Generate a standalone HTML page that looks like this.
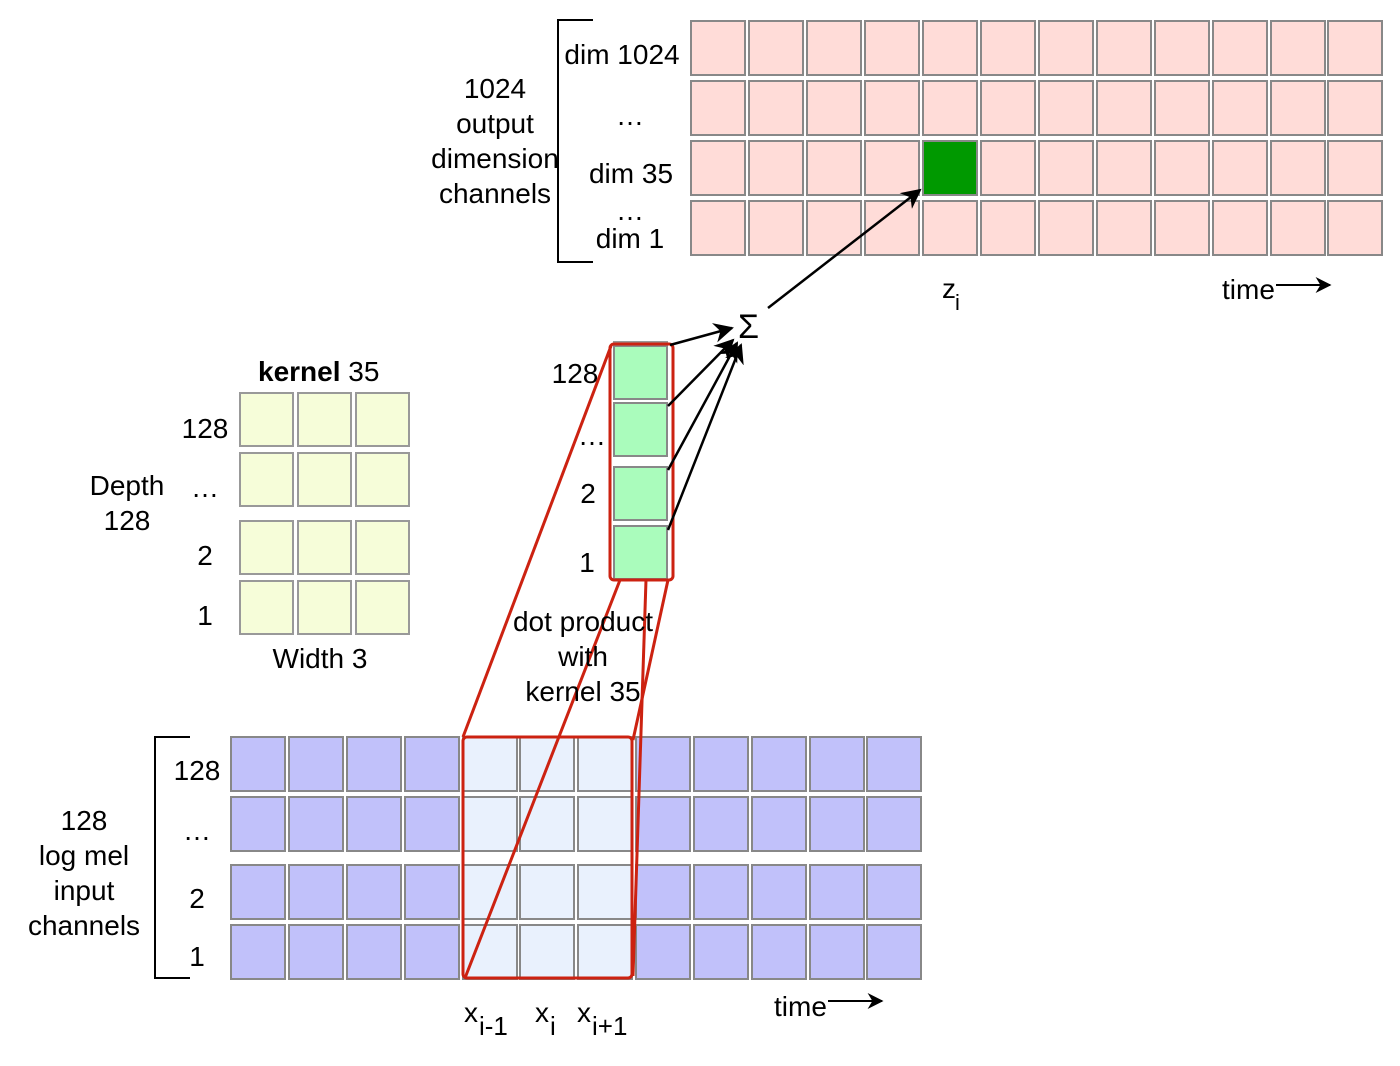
<!DOCTYPE html>
<html><head><meta charset="utf-8"><style>
html,body{margin:0;padding:0;background:#fff;}
svg{display:block;font-family:"Liberation Sans",Arial,sans-serif;font-size:28px;}
</style></head><body>
<svg width="1400" height="1066" viewBox="0 0 1400 1066" xmlns="http://www.w3.org/2000/svg">
<defs>
<rect id="p" x="1" y="1" width="54" height="54" fill="#ffdcd8" stroke="#888" stroke-width="2"/>
<rect id="b" x="1" y="1" width="54" height="54" fill="#c1c1fa" stroke="#888" stroke-width="2"/>
<rect id="l" x="1" y="1" width="54" height="54" fill="#e9f1fd" stroke="#888" stroke-width="2"/>
<rect id="k" x="1" y="1" width="53" height="53" fill="#f6fdd9" stroke="#999" stroke-width="2"/>
<rect id="g" x="1" y="1" width="53" height="53" fill="#aafcbc" stroke="#888" stroke-width="2"/>
<g id="prow">
<use href="#p" x="690"/><use href="#p" x="748"/><use href="#p" x="806"/><use href="#p" x="864"/><use href="#p" x="922"/><use href="#p" x="980"/><use href="#p" x="1038"/><use href="#p" x="1096"/><use href="#p" x="1154"/><use href="#p" x="1212"/><use href="#p" x="1270"/><use href="#p" x="1327"/>
</g>
<g id="brow">
<use href="#b" x="230"/><use href="#b" x="288"/><use href="#b" x="346"/><use href="#b" x="404"/><use href="#l" x="462"/><use href="#l" x="519"/><use href="#l" x="577"/><use href="#b" x="635"/><use href="#b" x="693"/><use href="#b" x="751"/><use href="#b" x="809"/><use href="#b" x="866"/>
</g>
<g id="krow"><use href="#k" x="239"/><use href="#k" x="297"/><use href="#k" x="355"/></g>
<marker id="ar" viewBox="0 0 10 10" refX="9" refY="5" markerWidth="8" markerHeight="8" orient="auto"><path d="M0,0 L10,5 L0,10 L3,5 z" fill="#000"/></marker>
</defs>

<!-- top grid -->
<use href="#prow" y="20"/><use href="#prow" y="80"/><use href="#prow" y="140"/><use href="#prow" y="200"/>
<rect x="923" y="141" width="54" height="54" fill="#009900" stroke="#888" stroke-width="2"/>
<path d="M593,20 H558 V262 H593" fill="none" stroke="#000" stroke-width="2"/>
<text x="622" y="64" text-anchor="middle">dim 1024</text>
<text x="630" y="125" text-anchor="middle">…</text>
<text x="631" y="183" text-anchor="middle">dim 35</text>
<text x="630" y="220" text-anchor="middle">…</text>
<text x="630" y="248" text-anchor="middle">dim 1</text>
<text x="495" y="98" text-anchor="middle">1024</text>
<text x="495" y="133" text-anchor="middle">output</text>
<text x="495" y="168" text-anchor="middle">dimension</text>
<text x="495" y="203" text-anchor="middle">channels</text>
<text x="942" y="298">z</text><text x="955" y="310" font-size="22">i</text>
<text x="1222" y="299">time</text>
<line x1="1276" y1="285" x2="1330" y2="285" stroke="#000" stroke-width="2" marker-end="url(#ar)"/>

<!-- kernel -->
<use href="#krow" y="392"/><use href="#krow" y="452"/><use href="#krow" y="520"/><use href="#krow" y="580"/>
<text x="258" y="381"><tspan font-weight="bold">kernel</tspan> 35</text>
<text x="205" y="438" text-anchor="middle">128</text>
<text x="205" y="497" text-anchor="middle">…</text>
<text x="205" y="565" text-anchor="middle">2</text>
<text x="205" y="625" text-anchor="middle">1</text>
<text x="127" y="495" text-anchor="middle">Depth</text>
<text x="127" y="530" text-anchor="middle">128</text>
<text x="320" y="668" text-anchor="middle">Width 3</text>

<!-- green column -->
<rect x="613" y="341" width="55" height="4" fill="#999"/>
<use href="#g" x="613" y="345"/><use href="#g" x="613" y="402"/><use href="#g" x="613" y="466"/><use href="#g" x="613" y="525"/>
<rect x="610" y="344" width="63" height="236" rx="4" fill="none" stroke="#cc2211" stroke-width="3"/>
<text x="575" y="383" text-anchor="middle">128</text>
<text x="592" y="445" text-anchor="middle">…</text>
<text x="588" y="503" text-anchor="middle">2</text>
<text x="587" y="572" text-anchor="middle">1</text>

<!-- arrows to sigma -->
<text x="738" y="338" font-size="34">Σ</text>
<g stroke="#000" stroke-width="2.5" fill="none" marker-end="url(#ar)">
<line x1="670" y1="345" x2="732" y2="328"/>
<line x1="668" y1="406" x2="733" y2="340"/>
<line x1="668" y1="470" x2="737" y2="343"/>
<line x1="668" y1="530" x2="741" y2="345"/>
<line x1="768" y1="308" x2="920" y2="190"/>
</g>

<!-- bottom grid -->
<use href="#brow" y="736"/><use href="#brow" y="796"/><use href="#brow" y="864"/><use href="#brow" y="924"/>
<rect x="463" y="737" width="169" height="241" rx="4" fill="none" stroke="#cc2211" stroke-width="3"/>
<g stroke="#cc2211" stroke-width="3" fill="none">
<line x1="611" y1="346" x2="463" y2="737"/>
<line x1="620" y1="580" x2="465" y2="978"/>
<line x1="646" y1="580" x2="633" y2="976"/>
<line x1="668" y1="580" x2="633" y2="740"/>
</g>
<text x="583" y="631" text-anchor="middle">dot product</text>
<text x="583" y="666" text-anchor="middle">with</text>
<text x="583" y="701" text-anchor="middle">kernel 35</text>
<path d="M190,737 H155 V978 H190" fill="none" stroke="#000" stroke-width="2"/>
<text x="197" y="780" text-anchor="middle">128</text>
<text x="197" y="840" text-anchor="middle">…</text>
<text x="197" y="908" text-anchor="middle">2</text>
<text x="197" y="966" text-anchor="middle">1</text>
<text x="84" y="830" text-anchor="middle">128</text>
<text x="84" y="865" text-anchor="middle">log mel</text>
<text x="84" y="900" text-anchor="middle">input</text>
<text x="84" y="935" text-anchor="middle">channels</text>
<text x="464" y="1022">x</text><text x="479" y="1035" font-size="26">i-1</text>
<text x="535" y="1022">x</text><text x="550" y="1035" font-size="26">i</text>
<text x="577" y="1022">x</text><text x="592" y="1035" font-size="26">i+1</text>
<text x="774" y="1016">time</text>
<line x1="828" y1="1001" x2="882" y2="1001" stroke="#000" stroke-width="2" marker-end="url(#ar)"/>
</svg>
</body></html>
